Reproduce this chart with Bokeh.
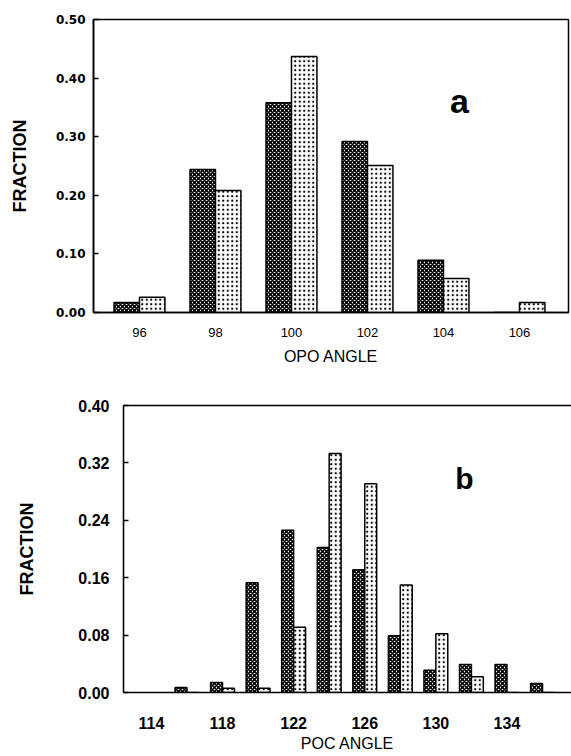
from bokeh.plotting import figure
from bokeh.models import (ColumnDataSource, FixedTicker, PrintfTickFormatter,
                          Label, LinearAxis, Range1d)
from bokeh.transform import dodge
from bokeh.embed import file_html
from bokeh.resources import INLINE

# ---------------- data ----------------
opo_angles = [96, 98, 100, 102, 104, 106]
opo_dark = [0.017, 0.244, 0.358, 0.292, 0.089, 0.0]
opo_light = [0.026, 0.208, 0.437, 0.251, 0.058, 0.017]
opo_xticks = [96, 98, 100, 102, 104, 106]
opo_yticks = [0.0, 0.1, 0.2, 0.3, 0.4, 0.5]

poc_angles = [116, 118, 120, 122, 124, 126, 128, 130, 132, 134, 136]
poc_dark = [0.007, 0.014, 0.153, 0.226, 0.202, 0.171, 0.079, 0.031, 0.039, 0.039, 0.0125]
poc_light = [0.0, 0.006, 0.006, 0.091, 0.333, 0.291, 0.150, 0.082, 0.022, 0.0, 0.0]
poc_xticks = [114, 118, 122, 126, 130, 134]
poc_yticks = [0.0, 0.08, 0.16, 0.24, 0.32, 0.40]

BAR_W = 0.67
SANS = "Liberation Sans"
WIDE = "DejaVu Sans"


def draw_bars(p, src, xr):
    p.vbar(x=dodge("x", -BAR_W / 2, range=xr), top="dark", width=BAR_W, source=src,
           fill_color="white", line_color="black", line_width=1.5,
           hatch_pattern="diagonal_cross", hatch_color="black",
           hatch_scale=4, hatch_weight=1.6)
    p.vbar(x=dodge("x", BAR_W / 2, range=xr), top="light", width=BAR_W, source=src,
           fill_color="white", line_color="black", line_width=1.5,
           hatch_pattern="dot", hatch_color="black",
           hatch_scale=4.5, hatch_weight=1.5)


def base_style(p, xax, yax):
    p.xgrid.visible = False
    p.ygrid.visible = False
    p.background_fill_color = "white"
    p.border_fill_color = "white"
    for ax in (xax, yax):
        ax.axis_line_width = 1.6
        ax.axis_line_color = "black"
        ax.minor_tick_line_color = None
        ax.major_tick_out = 0
        ax.major_label_text_color = "black"
        ax.axis_label_text_color = "black"
    xax.major_tick_in = 0
    yax.major_tick_in = 5
    yax.major_tick_line_width = 1.5
    yax.major_tick_line_color = "black"


# ---------------- panel a ----------------
xr_a = Range1d(94.79, 107.29)
pa = figure(width=571, height=385, x_range=xr_a, y_range=Range1d(0, 0.5),
            output_backend="svg", toolbar_location=None,
            min_border_left=93, min_border_right=3, min_border_top=19,
            min_border_bottom=73)
xa = pa.below[0]
ya = pa.left[0]
base_style(pa, xa, ya)
pa.outline_line_color = "black"
pa.outline_line_width = 1.5
src_a = ColumnDataSource(dict(x=opo_angles, dark=opo_dark, light=opo_light))
draw_bars(pa, src_a, xr_a)

xa.ticker = FixedTicker(ticks=opo_xticks)
ya.ticker = FixedTicker(ticks=opo_yticks)
ya.formatter = PrintfTickFormatter(format="%.2f")
ya.major_label_text_font = WIDE
ya.major_label_text_font_style = "bold"
ya.major_label_text_font_size = "12px"
ya.major_label_standoff = 8
xa.major_label_text_font = SANS
xa.major_label_text_font_size = "13px"
xa.major_label_standoff = 15
xa.axis_label = "OPO ANGLE"
xa.axis_label_text_font = SANS
xa.axis_label_text_font_style = "normal"
xa.axis_label_text_font_size = "16px"
xa.axis_label_standoff = 8
ya.axis_label = "FRACTION"
ya.axis_label_text_font = SANS
ya.axis_label_text_font_style = "bold"
ya.axis_label_text_font_size = "18px"
ya.axis_label_standoff = 23

pa.add_layout(Label(x=366, y=212, x_units="screen", y_units="screen", text="a",
                    text_font=SANS, text_font_style="bold", text_font_size="34px",
                    text_color="black", text_align="center", text_baseline="middle"))

# ---------------- panel b ----------------
xr_b = Range1d(112.43, 137.63)
pb = figure(width=571, height=371, x_range=xr_b, y_range=Range1d(0, 0.4),
            output_backend="svg", toolbar_location=None,
            min_border_left=123, min_border_right=0, min_border_top=20,
            min_border_bottom=64)
xb = pb.below[0]
yb = pb.left[0]
base_style(pb, xb, yb)
pb.outline_line_color = None
src_b = ColumnDataSource(dict(x=poc_angles, dark=poc_dark, light=poc_light))
draw_bars(pb, src_b, xr_b)

xb.ticker = FixedTicker(ticks=poc_xticks)
yb.ticker = FixedTicker(ticks=poc_yticks)
yb.formatter = PrintfTickFormatter(format="%.2f")
yb.major_label_text_font = SANS
yb.major_label_text_font_style = "bold"
yb.major_label_text_font_size = "16px"
yb.major_label_standoff = 14
xb.major_label_text_font = SANS
xb.major_label_text_font_style = "bold"
xb.major_label_text_font_size = "16px"
xb.major_label_standoff = 24
xb.axis_label = "POC ANGLE"
xb.axis_label_text_font = SANS
xb.axis_label_text_font_style = "normal"
xb.axis_label_text_font_size = "16px"
xb.axis_label_standoff = 3
yb.axis_label = "FRACTION"
yb.axis_label_text_font = SANS
yb.axis_label_text_font_style = "bold"
yb.axis_label_text_font_size = "18px"
yb.axis_label_standoff = 38

top_axis = LinearAxis(ticker=FixedTicker(ticks=[]), axis_line_width=1.6,
                      axis_line_color="black",
                      major_tick_in=0, major_tick_out=0, minor_tick_in=0,
                      minor_tick_out=0, major_label_text_font_size="0px")
pb.add_layout(top_axis, "above")

pb.add_layout(Label(x=341, y=214, x_units="screen", y_units="screen", text="b",
                    text_font=SANS, text_font_style="bold", text_font_size="30px",
                    text_color="black", text_align="center", text_baseline="middle"))

open("out.html", "w").write(file_html([pa, pb], INLINE))
